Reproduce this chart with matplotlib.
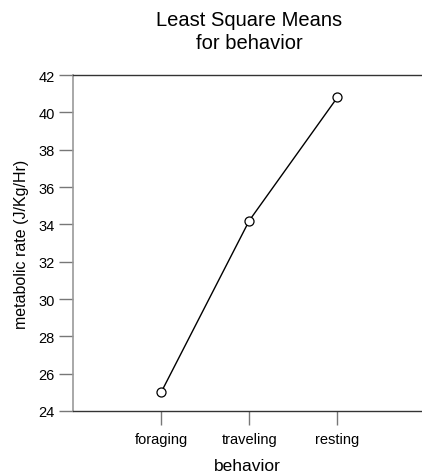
import matplotlib

matplotlib.use("Agg")
import matplotlib.pyplot as plt

plt.rcParams["font.family"] = ["Liberation Sans", "DejaVu Sans"]

behaviors = ["foraging", "traveling", "resting"]
lsmeans = [25.0, 34.2, 40.8]
yticks = [24, 26, 28, 30, 32, 34, 36, 38, 40, 42]

fig = plt.figure(figsize=(4.22, 4.77), dpi=100)
ax = fig.add_axes([73 / 422, 1 - 412 / 477, 1 - 73 / 422, (412 - 76) / 477])

xpos = list(range(1, len(behaviors) + 1))
ax.plot(xpos, lsmeans, color="black", lw=1.0, marker="o", ms=6.5,
        mfc="white", mec="black", mew=0.9, clip_on=False, zorder=3)

ax.set_xlim(0, 3.96)
ax.set_ylim(24, 42)
ax.set_xticks(xpos)
ax.set_xticklabels(behaviors)
ax.set_yticks(yticks)

for side in ("top", "bottom"):
    ax.spines[side].set_color("#333333")
    ax.spines[side].set_linewidth(1.0)
ax.spines["left"].set_color("#999999")
ax.spines["left"].set_linewidth(1.2)
ax.spines["right"].set_visible(False)

ax.tick_params(axis="y", direction="out", length=10, width=1.0, color="#777777",
               labelsize=10.5, pad=3)
ax.tick_params(axis="x", direction="out", length=10, width=1.0, color="#777777",
               labelsize=10.5, pad=5)

ax.set_xlabel("behavior", fontsize=12.5, labelpad=9)
ax.set_ylabel("metabolic rate (J/Kg/Hr)", fontsize=11.5, labelpad=7)

fig.text(249 / 422, 1 - 32 / 477, "Least Square Means\nfor behavior", ha="center",
         va="center", fontsize=14.5, linespacing=1.25)

fig.savefig("out.png", dpi=100, facecolor="white")
